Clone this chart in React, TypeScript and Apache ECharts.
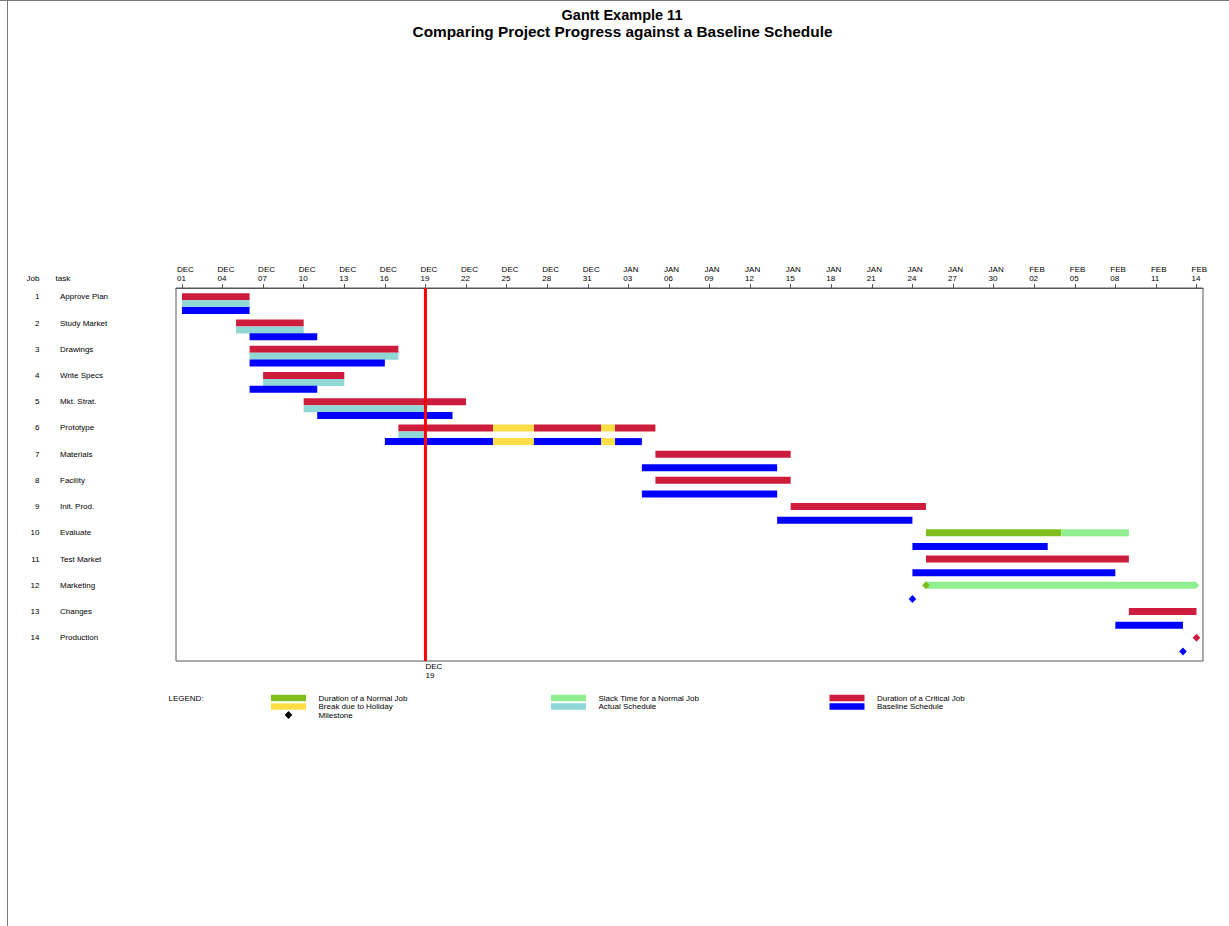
import React, { useEffect, useRef } from "react";
import * as echarts from "echarts";

// ---------- data (days are counted from DEC 01) ----------
const jobs = ["1", "2", "3", "4", "5", "6", "7", "8", "9", "10", "11", "12", "13", "14"];
const tasks = [
  "Approve Plan", "Study Market", "Drawings", "Write Specs", "Mkt. Strat.", "Prototype",
  "Materials", "Facility", "Init. Prod.", "Evaluate", "Test Market", "Marketing", "Changes", "Production",
];
const tickDays = [0, 3, 6, 9, 12, 15, 18, 21, 24, 27, 30, 33, 36, 39, 42, 45, 48, 51, 54, 57, 60, 63, 66, 69, 72, 75];
const tickLabels = [
  "DEC\n01", "DEC\n04", "DEC\n07", "DEC\n10", "DEC\n13", "DEC\n16", "DEC\n19", "DEC\n22", "DEC\n25",
  "DEC\n28", "DEC\n31", "JAN\n03", "JAN\n06", "JAN\n09", "JAN\n12", "JAN\n15", "JAN\n18", "JAN\n21",
  "JAN\n24", "JAN\n27", "JAN\n30", "FEB\n02", "FEB\n05", "FEB\n08", "FEB\n11", "FEB\n14",
];
const currentDay = 18;
const currentLabel = "DEC\n19";

// [job, startDay, endDay]
const criticalBars = [
  [1, 0, 5], [2, 4, 9], [3, 5, 16], [4, 6, 12], [5, 9, 21], [6, 16, 23], [6, 26, 31], [6, 32, 35],
  [7, 35, 45], [8, 35, 45], [9, 45, 55], [11, 55, 70], [13, 70, 75],
];
const normalBars = [[10, 55, 65]];
const slackBars = [[10, 65, 70], [12, 55, 75.2]];
const holidayBars = [[6, 23, 26], [6, 31, 32]];
const actualBars = [[1, 0, 5], [2, 4, 9], [3, 5, 16], [4, 6, 12], [5, 9, 18], [6, 16, 18]];
const baselineBars = [
  [1, 0, 5], [2, 5, 10], [3, 5, 15], [4, 5, 10], [5, 10, 20], [6, 15, 23], [6, 26, 31], [6, 32, 34],
  [7, 34, 44], [8, 34, 44], [9, 44, 54], [10, 54, 64], [11, 54, 69], [13, 69, 74],
];
const baselineHolidayBars = [[6, 23, 26], [6, 31, 32]];
// [job, day]
const normalMilestones = [[12, 55]];
const criticalMilestones = [[14, 75]];
const baselineMilestones = [[12, 54], [14, 74]];

const legendCol1 = ["Duration of a Normal Job", "Break due to Holiday", "Milestone"];
const legendCol2 = ["Slack Time for a Normal Job", "Actual Schedule"];
const legendCol3 = ["Duration of a Critical Job", "Baseline Schedule"];

// ---------- styles ----------
const FONT = "'Liberation Sans', Arial, Helvetica, sans-serif";
const C_CRIT = "#CD1C3C";
const C_NORMAL = "#80BE1E";
const C_SLACK = "#90EE90";
const C_HOLIDAY = "#FFDD44";
const C_ACTUAL = "#8FD8D6";
const C_BASE = "#0000FF";
const C_FRAME = "#555555";

const X_MIN = -0.44;
const X_MAX = 75.48;
const Y_MIN = 0.664;
const Y_MAX = 14.889;
const LAST_TICK = tickDays[tickDays.length - 1];

// pixel offsets of the three lanes relative to the job's row
const LANE_TOP = 0;
const LANE_ACTUAL = 7;
const LANE_BASE = 13.7;
const BAR_H = 7;

function barSeries(name: string, data: number[][], color: string, laneOffset: number, z = 2) {
  return {
    type: "custom",
    name,
    z,
    clip: false,
    data: data.map(([job, s, e]) => [s, e, job]),
    encode: { x: [0, 1], y: 2 },
    renderItem: (params: any, api: any) => {
      const s = api.value(0);
      const e = api.value(1);
      const p0 = api.coord([s, api.value(2)]);
      const p1 = api.coord([e, api.value(2)]);
      const yc = p0[1] + laneOffset;
      const x0 = p0[0];
      const x1 = p1[0];
      if (e > LAST_TICK) {
        const tip = 3.5;
        return {
          type: "polygon",
          shape: {
            points: [
              [x0 - tip, yc], [x0, yc - BAR_H / 2], [x1 - tip, yc - BAR_H / 2], [x1, yc],
              [x1 - tip, yc + BAR_H / 2], [x0, yc + BAR_H / 2],
            ],
          },
          style: { fill: color },
        };
      }
      return {
        type: "rect",
        shape: { x: x0, y: yc - BAR_H / 2, width: x1 - x0, height: BAR_H },
        style: { fill: color },
      };
    },
  };
}

function milestoneSeries(name: string, data: number[][], color: string, laneOffset: number) {
  return {
    type: "custom",
    name,
    z: 5,
    clip: false,
    data: data.map(([job, d]) => [d, job]),
    encode: { x: 0, y: 1 },
    renderItem: (params: any, api: any) => {
      const p = api.coord([api.value(0), api.value(1)]);
      const x = p[0];
      const y = p[1] + laneOffset;
      return {
        type: "polygon",
        shape: { points: [[x, y - 4], [x + 3.8, y], [x, y + 4], [x - 3.8, y]] },
        style: { fill: color },
      };
    },
  };
}

function currentDateSeries() {
  return {
    type: "custom",
    name: "current",
    z: 10,
    clip: false,
    data: [[currentDay, 1]],
    encode: { x: 0, y: 1 },
    renderItem: (params: any, api: any) => {
      const cs = params.coordSys;
      const x = api.coord([api.value(0), 1])[0];
      return {
        type: "group",
        children: [
          {
            type: "line",
            shape: { x1: x, y1: cs.y, x2: x, y2: cs.y + cs.height },
            style: { stroke: "#FF0000", lineWidth: 3 },
          },
          {
            type: "text",
            style: {
              x: x,
              y: cs.y + cs.height + 1,
              text: currentLabel,
              fill: "#000",
              fontSize: 8,
              lineHeight: 9,
              fontFamily: FONT,
              align: "left",
              verticalAlign: "top",
            },
          },
        ],
      };
    },
  };
}

function legendGraphics() {
  const els: any[] = [];
  const textStyle = (text: string, x: number, y: number) => ({
    type: "text",
    x,
    y,
    style: { text, fill: "#000", fontSize: 8, fontFamily: FONT, align: "left", verticalAlign: "middle" },
  });
  const rows = [698, 706.5, 715];
  els.push(textStyle("LEGEND:", 168.5, rows[0]));
  const cols: { sx: number; tx: number; items: string[]; colors: (string | null)[] }[] = [
    { sx: 271, tx: 318.5, items: legendCol1, colors: [C_NORMAL, C_HOLIDAY, null] },
    { sx: 551, tx: 598.5, items: legendCol2, colors: [C_SLACK, C_ACTUAL] },
    { sx: 829.5, tx: 877, items: legendCol3, colors: [C_CRIT, C_BASE] },
  ];
  cols.forEach((c) => {
    c.items.forEach((label, i) => {
      const y = rows[i];
      const col = c.colors[i];
      if (col) {
        els.push({ type: "rect", shape: { x: c.sx, y: y - 3.2, width: 35, height: 6.4 }, style: { fill: col } });
      } else {
        const cx = c.sx + 17.5;
        els.push({
          type: "polygon",
          shape: { points: [[cx, y - 4], [cx + 3.8, y], [cx, y + 4], [cx - 3.8, y]] },
          style: { fill: "#000" },
        });
      }
      els.push(textStyle(label, c.tx, y));
    });
  });
  return els;
}

export default function App() {
  const ref = useRef<HTMLDivElement>(null);
  useEffect(() => {
    if (!ref.current) return;
    const chart = echarts.init(ref.current, undefined, { renderer: "svg" });
    const labelStyle = { fontSize: 8, fontFamily: FONT, color: "#000" };
    const yBase = {
      type: "value",
      min: Y_MIN,
      max: Y_MAX,
      inverse: true,
      position: "left",
      axisLine: { show: false },
      axisTick: { show: false },
      splitLine: { show: false },
    };
    chart.setOption({
      animation: false,
      backgroundColor: "#FFFFFF",
      grid: {
        left: 176,
        top: 288,
        right: 26,
        bottom: 265,
        show: true,
        borderColor: C_FRAME,
        borderWidth: 1,
        containLabel: false,
      },
      xAxis: {
        type: "value",
        position: "top",
        min: X_MIN,
        max: X_MAX,
        splitLine: { show: false },
        axisLine: { show: true, lineStyle: { color: C_FRAME, width: 1 } },
        axisTick: {
          show: true,
          inside: false,
          length: 4,
          customValues: tickDays,
          lineStyle: { color: C_FRAME, width: 1 },
        },
        axisLabel: {
          ...labelStyle,
          lineHeight: 9,
          margin: 5,
          align: "left",
          customValues: tickDays.map((d) => d - 0.37),
          formatter: (v: number) => {
            const idx = tickDays.indexOf(Math.round(v + 0.37));
            return idx >= 0 ? tickLabels[idx] : "";
          },
        },
      },
      yAxis: [
        {
          ...yBase,
          axisLabel: {
            ...labelStyle,
            align: "right",
            margin: 136.5,
            padding: [2, 0, 0, 0],
            customValues: jobs.map((_, i) => i + 1),
            formatter: (v: number) => jobs[Math.round(v) - 1] ?? "",
          },
        },
        {
          ...yBase,
          axisLabel: {
            ...labelStyle,
            align: "left",
            margin: 116,
            padding: [2, 0, 0, 0],
            customValues: tasks.map((_, i) => i + 1),
            formatter: (v: number) => tasks[Math.round(v) - 1] ?? "",
          },
        },
      ],
      graphic: [
        {
          type: "text",
          x: 622,
          y: 7,
          style: { text: "Gantt Example 11", fill: "#000", fontSize: 14.5, fontWeight: "bold", fontFamily: FONT, align: "center", verticalAlign: "top" },
        },
        {
          type: "text",
          x: 622.5,
          y: 24,
          style: { text: "Comparing Project Progress against a Baseline Schedule", fill: "#000", fontSize: 15.4, fontWeight: "bold", fontFamily: FONT, align: "center", verticalAlign: "top" },
        },
        {
          type: "text",
          x: 39.5,
          y: 278,
          style: { text: "Job", fill: "#000", fontSize: 8, fontFamily: FONT, align: "right", verticalAlign: "middle" },
        },
        {
          type: "text",
          x: 55.5,
          y: 278,
          style: { text: "task", fill: "#000", fontSize: 8, fontFamily: FONT, align: "left", verticalAlign: "middle" },
        },
        { type: "line", shape: { x1: 7.5, y1: 0, x2: 7.5, y2: 926 }, style: { stroke: "#777", lineWidth: 1 } },
        { type: "line", shape: { x1: 0, y1: 0.5, x2: 1229, y2: 0.5 }, style: { stroke: "#777", lineWidth: 1 } },
        ...legendGraphics(),
      ],
      series: [
        barSeries("Duration of a Critical Job", criticalBars, C_CRIT, LANE_TOP),
        barSeries("Duration of a Normal Job", normalBars, C_NORMAL, LANE_TOP),
        barSeries("Slack Time for a Normal Job", slackBars, C_SLACK, LANE_TOP),
        barSeries("Break due to Holiday", holidayBars, C_HOLIDAY, LANE_TOP),
        barSeries("Actual Schedule", actualBars, C_ACTUAL, LANE_ACTUAL),
        barSeries("Baseline Schedule", baselineBars, C_BASE, LANE_BASE),
        barSeries("Baseline Holiday", baselineHolidayBars, C_HOLIDAY, LANE_BASE),
        milestoneSeries("Normal Milestone", normalMilestones, C_NORMAL, LANE_TOP),
        milestoneSeries("Critical Milestone", criticalMilestones, C_CRIT, LANE_TOP),
        milestoneSeries("Baseline Milestone", baselineMilestones, C_BASE, LANE_BASE),
        currentDateSeries(),
      ],
    });
    return () => chart.dispose();
  }, []);
  return (
    <div
      ref={ref}
      style={{ position: "fixed", left: 0, top: 0, width: 1229, height: 926, background: "#fff" }}
    />
  );
}
